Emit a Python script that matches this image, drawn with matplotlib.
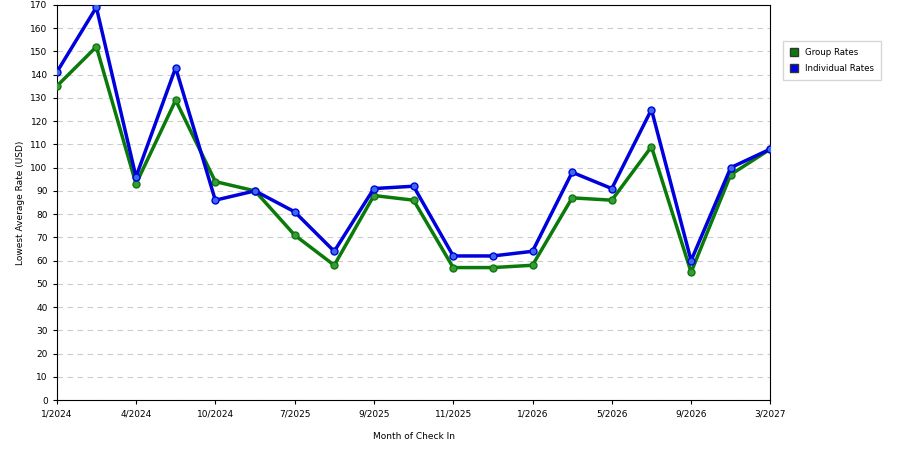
import matplotlib
matplotlib.use("Agg")
import matplotlib.pyplot as plt
from matplotlib.patches import Patch

labels = ["1/2024","4/2024","10/2024","7/2025","9/2025","11/2025","1/2026","5/2026","9/2026","3/2027"]
group = [135,152,93,129,94,90,71,58,88,86,57,57,58,87,86,109,55,97,108]
indiv = [141,169,96,143,86,90,81,64,91,92,62,62,64,98,91,125,60,100,108]
x = list(range(len(group)))

fig = plt.figure(figsize=(9,4.5), dpi=100)
ax = fig.add_axes([0.063, 0.111, 0.793, 0.878])
ax.plot(x, group, color="#0a7a0a", lw=2.5, marker="o", ms=5, mfc="#3a9a3a", mec="#0a7a0a", zorder=3)
ax.plot(x, indiv, color="#0000dd", lw=2.5, marker="o", ms=5, mfc="#3a6aee", mec="#0000dd", zorder=4)
ax.set_xlim(0, 18)
ax.set_ylim(0, 170)
ax.set_yticks(range(0,171,10))
ax.set_xticks(range(0,19,2))
ax.set_xticklabels(labels)
ax.tick_params(labelsize=6.5, length=3)
ax.yaxis.grid(True, ls=(0,(5,4)), color="#cccccc", lw=0.8)
ax.set_axisbelow(True)
ax.set_xlabel("Month of Check In", fontsize=6.5, labelpad=10)
ax.set_ylabel("Lowest Average Rate (USD)", fontsize=6.5)
handles = [Patch(facecolor="#0a7a0a", edgecolor="#333"), Patch(facecolor="#0000ee", edgecolor="#333")]
fig.legend(handles, ["Group Rates","Individual Rates"], loc="upper left",
           bbox_to_anchor=(0.865, 0.918), fontsize=6.2, frameon=True, fancybox=False,
           edgecolor="#cccccc", handlelength=1.0, handleheight=1.0, handletextpad=0.8,
           borderpad=0.8, labelspacing=0.8)
fig.savefig("out.png")
